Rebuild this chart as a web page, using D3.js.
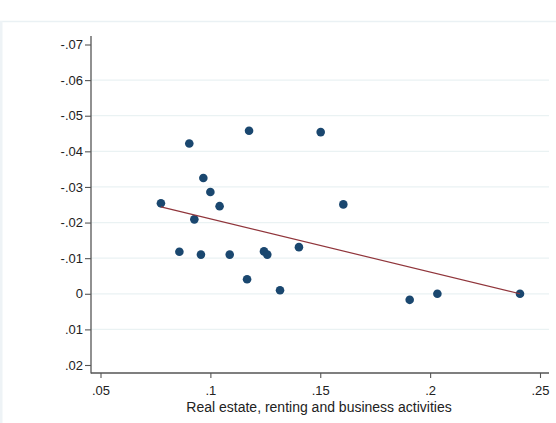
<!DOCTYPE html>
<html>
<head>
<meta charset="utf-8">
<script src="https://cdn.jsdelivr.net/npm/d3@7"></script>
<style>
  html, body { margin: 0; padding: 0; background: #ffffff; }
  svg { display: block; }
  text { font-family: "Liberation Sans", Arial, Helvetica, sans-serif; fill: #222; }
</style>
</head>
<body>
<svg id="chart" width="556" height="423"></svg>
<script>
// ---- data ----
const xValues = [0.0775, 0.0904, 0.1176, 0.1502, 0.0968, 0.1000, 0.1042, 0.1605, 0.0927, 0.0859,
                 0.0957, 0.1088, 0.1244, 0.1259, 0.1403, 0.1167, 0.1317, 0.1907, 0.2033, 0.2409];
const yValues = [-0.0254, -0.0422, -0.0458, -0.0454, -0.0325, -0.0286, -0.0246, -0.0251, -0.0209, -0.0118,
                 -0.0110, -0.0110, -0.0119, -0.0110, -0.0131, -0.0041, -0.0010, 0.0017, 0.0000, 0.0000];
const fitX = [0.0775, 0.2409];
const fitY = [-0.0244, 0.0000];
const xTicks = [0.05, 0.10, 0.15, 0.20, 0.25];
const xTickLabels = [".05", ".1", ".15", ".2", ".25"];
const yTicks = [-0.07, -0.06, -0.05, -0.04, -0.03, -0.02, -0.01, 0, 0.01, 0.02];
const yTickLabels = ["-.07", "-.06", "-.05", "-.04", "-.03", "-.02", "-.01", "0", ".01", ".02"];
const xTitle = "Real estate, renting and business activities";

// ---- layout ----
const svg = d3.select("#chart");
const plotLeft = 91, plotRight = 549, plotTop = 36, plotBottom = 373;

const x = d3.scaleLinear().domain([0.05, 0.25]).range([100.5, 540]);
const y = d3.scaleLinear().domain([-0.07, 0.02]).range([44.5, 365]);

// outer faint frame
svg.append("line").attr("x1", 0).attr("x2", 556).attr("y1", 21.5).attr("y2", 21.5)
  .attr("stroke", "#eaf1f4").attr("stroke-width", 1.5);
svg.append("rect").attr("x", 0).attr("y", 21).attr("width", 2.5).attr("height", 402)
  .attr("fill", "#eef3f6");

// gridlines (not at extremes)
svg.append("g").selectAll("line")
  .data(yTicks.slice(1, -1))
  .join("line")
  .attr("x1", plotLeft).attr("x2", plotRight)
  .attr("y1", d => y(d)).attr("y2", d => y(d))
  .attr("stroke", "#eaf2f3").attr("stroke-width", 1.2);

// y axis
const yAxis = d3.axisLeft(y).tickValues(yTicks)
  .tickFormat((d, i) => yTickLabels[i]).tickSize(6).tickPadding(2);
const gy = svg.append("g").attr("transform", `translate(${plotLeft},0)`).call(yAxis);
gy.select(".domain").remove();
gy.append("line").attr("x1", 0).attr("x2", 0).attr("y1", plotTop).attr("y2", plotBottom + 0.5)
  .attr("stroke", "#555").attr("stroke-width", 1.3);
gy.selectAll(".tick line").attr("stroke", "#555").attr("stroke-width", 1.1);
gy.selectAll(".tick text").attr("font-size", 13).style("fill", "#222")
  .attr("font-family", "Liberation Sans, Arial, sans-serif");

// x axis
const xAxis = d3.axisBottom(x).tickValues(xTicks)
  .tickFormat((d, i) => xTickLabels[i]).tickSize(5).tickPadding(8);
const gx = svg.append("g").attr("transform", `translate(0,${plotBottom})`).call(xAxis);
gx.select(".domain").remove();
gx.append("line").attr("x1", plotLeft).attr("x2", plotRight).attr("y1", 0).attr("y2", 0)
  .attr("stroke", "#555").attr("stroke-width", 1.3);
gx.selectAll(".tick line").attr("stroke", "#555").attr("stroke-width", 1.1);
gx.selectAll(".tick text").attr("font-size", 13).style("fill", "#222")
  .attr("font-family", "Liberation Sans, Arial, sans-serif");

svg.append("text")
  .attr("x", (plotLeft + plotRight) / 2 - 1).attr("y", 412)
  .attr("text-anchor", "middle").attr("font-size", 14)
  .text(xTitle);

// points
svg.append("g").selectAll("circle")
  .data(xValues.map((v, i) => [v, yValues[i]]))
  .join("circle")
  .attr("cx", d => x(d[0])).attr("cy", d => y(d[1]))
  .attr("r", 4.3).attr("fill", "#1a476f");

// fitted line
const line = d3.line().x(d => x(d[0])).y(d => y(d[1]));
svg.append("path")
  .datum(fitX.map((v, i) => [v, fitY[i]]))
  .attr("d", line).attr("fill", "none")
  .attr("stroke", "#90353b").attr("stroke-width", 1.2);
</script>
</body>
</html>
